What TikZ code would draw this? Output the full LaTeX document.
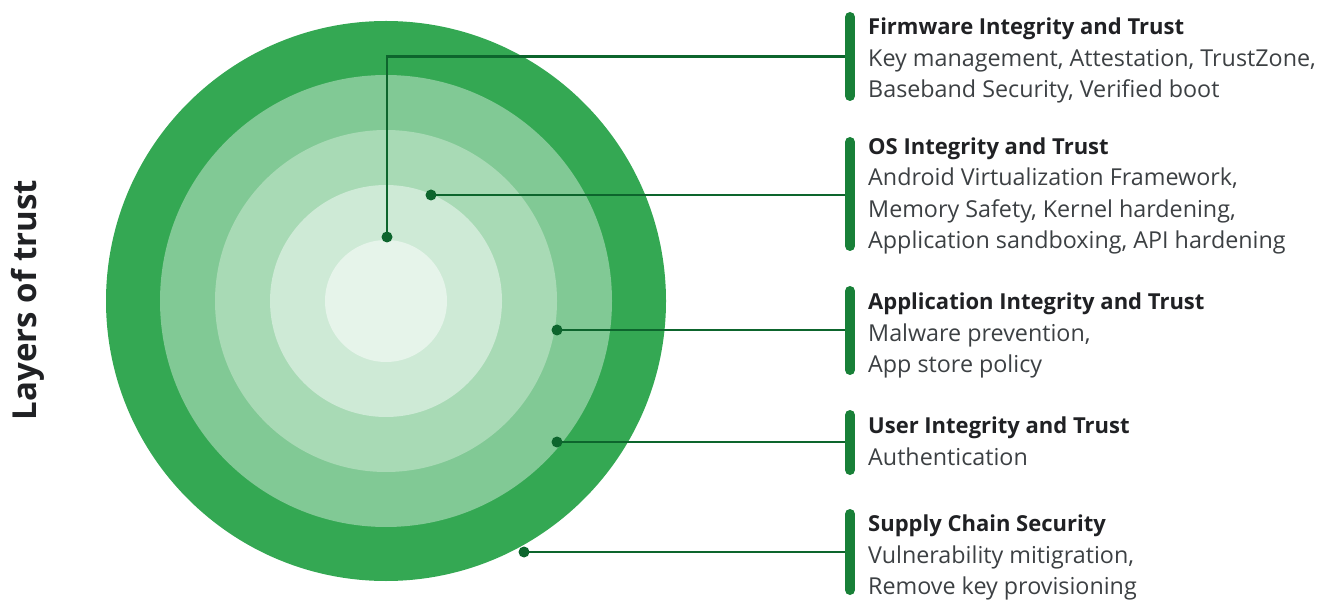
\documentclass[tikz,border=0pt]{standalone}
\usepackage{fontspec}
\setmainfont{Open Sans}
\definecolor{ringA}{HTML}{34A853}
\definecolor{ringB}{HTML}{81C995}
\definecolor{ringC}{HTML}{A8DAB5}
\definecolor{ringD}{HTML}{CEEAD6}
\definecolor{ringE}{HTML}{E6F4EA}
\definecolor{leader}{HTML}{0D652D}
\definecolor{barcol}{HTML}{188038}
\definecolor{titlecol}{HTML}{202124}
\definecolor{bodycol}{HTML}{3C4043}
\tikzset{
  dotnode/.style={circle, fill=leader, inner sep=0pt, minimum size=11pt},
  leaderline/.style={draw=leader, line width=2.4pt},
  sidebar/.style={draw=barcol, line width=10pt, line cap=round},
  ttl/.style={anchor=base west, inner sep=0pt, text=titlecol, font=\fontsize{22}{26}\selectfont\bfseries},
  bdy/.style={anchor=base west, inner sep=0pt, text=bodycol, font=\fontsize{23.3}{26}\selectfont},
}
\begin{document}
\begin{tikzpicture}[x=1pt,y=-1pt]
\useasboundingbox (0,0) rectangle (1325,601);
% rings
\fill[ringA] (386,301) circle[radius=280pt];
\fill[ringB] (386,301) circle[radius=226pt];
\fill[ringC] (386,301) circle[radius=171pt];
\fill[ringD] (386,301) circle[radius=116pt];
\fill[ringE] (386,301) circle[radius=61pt];
% side title
\node[rotate=90, text=titlecol, font=\fontsize{33}{40}\selectfont\bfseries] (side) at (28,300) {Layers of trust};
% bars
\draw[sidebar] (850,17) coordinate (fwTop) -- (850,96) coordinate (fwBot);
\draw[sidebar] (850,142) coordinate (osTop) -- (850,246) coordinate (osBot);
\draw[sidebar] (850,291) coordinate (apTop) -- (850,370) coordinate (apBot);
\draw[sidebar] (850,415) coordinate (usTop) -- (850,470) coordinate (usBot);
\draw[sidebar] (850,514) coordinate (scTop) -- (850,590) coordinate (scBot);
% attach points
\coordinate (fwA) at (845,56.5);
\coordinate (osA) at (845,195);
\coordinate (apA) at (845,330);
\coordinate (usA) at (845,442);
\coordinate (scA) at (845,552);
% dots
\node[dotnode] (fwD) at (387,237) {};
\node[dotnode] (osD) at (431,195) {};
\node[dotnode] (apD) at (557,330) {};
\node[dotnode] (usD) at (557,442) {};
\node[dotnode] (scD) at (524,552) {};
% leaders
\draw[leaderline] (fwD.center) |- (fwA);
\draw[leaderline] (osD.center) -- (osA);
\draw[leaderline] (apD.center) -- (apA);
\draw[leaderline] (usD.center) -- (usA);
\draw[leaderline] (scD.center) -- (scA);
% texts
\node[ttl] (fwT) at (868,34.7) {Firmware Integrity and Trust};
\node[bdy] (fw1) at (868,66.2) {Key management, Attestation, TrustZone,};
\node[bdy] (fw2) at (868,97.7) {Baseband Security, Verified boot};
\node[ttl] (osT) at (868,154.2) {OS Integrity and Trust};
\node[bdy] (os1) at (868,185.7) {Android Virtualization Framework,};
\node[bdy] (os2) at (868,217.2) {Memory Safety, Kernel hardening,};
\node[bdy] (os3) at (868,248.7) {Application sandboxing, API hardening};
\node[ttl] (apT) at (868,309.7) {Application Integrity and Trust};
\node[bdy] (ap1) at (868,341.2) {Malware prevention,};
\node[bdy] (ap2) at (868,372.7) {App store policy};
\node[ttl] (usT) at (868,433.5) {User Integrity and Trust};
\node[bdy] (us1) at (868,465) {Authentication};
\node[ttl] (scT) at (868,531.5) {Supply Chain Security};
\node[bdy] (sc1) at (868,563) {Vulnerability mitigration,};
\node[bdy] (sc2) at (868,594.5) {Remove key provisioning};
\end{tikzpicture}
\end{document}
